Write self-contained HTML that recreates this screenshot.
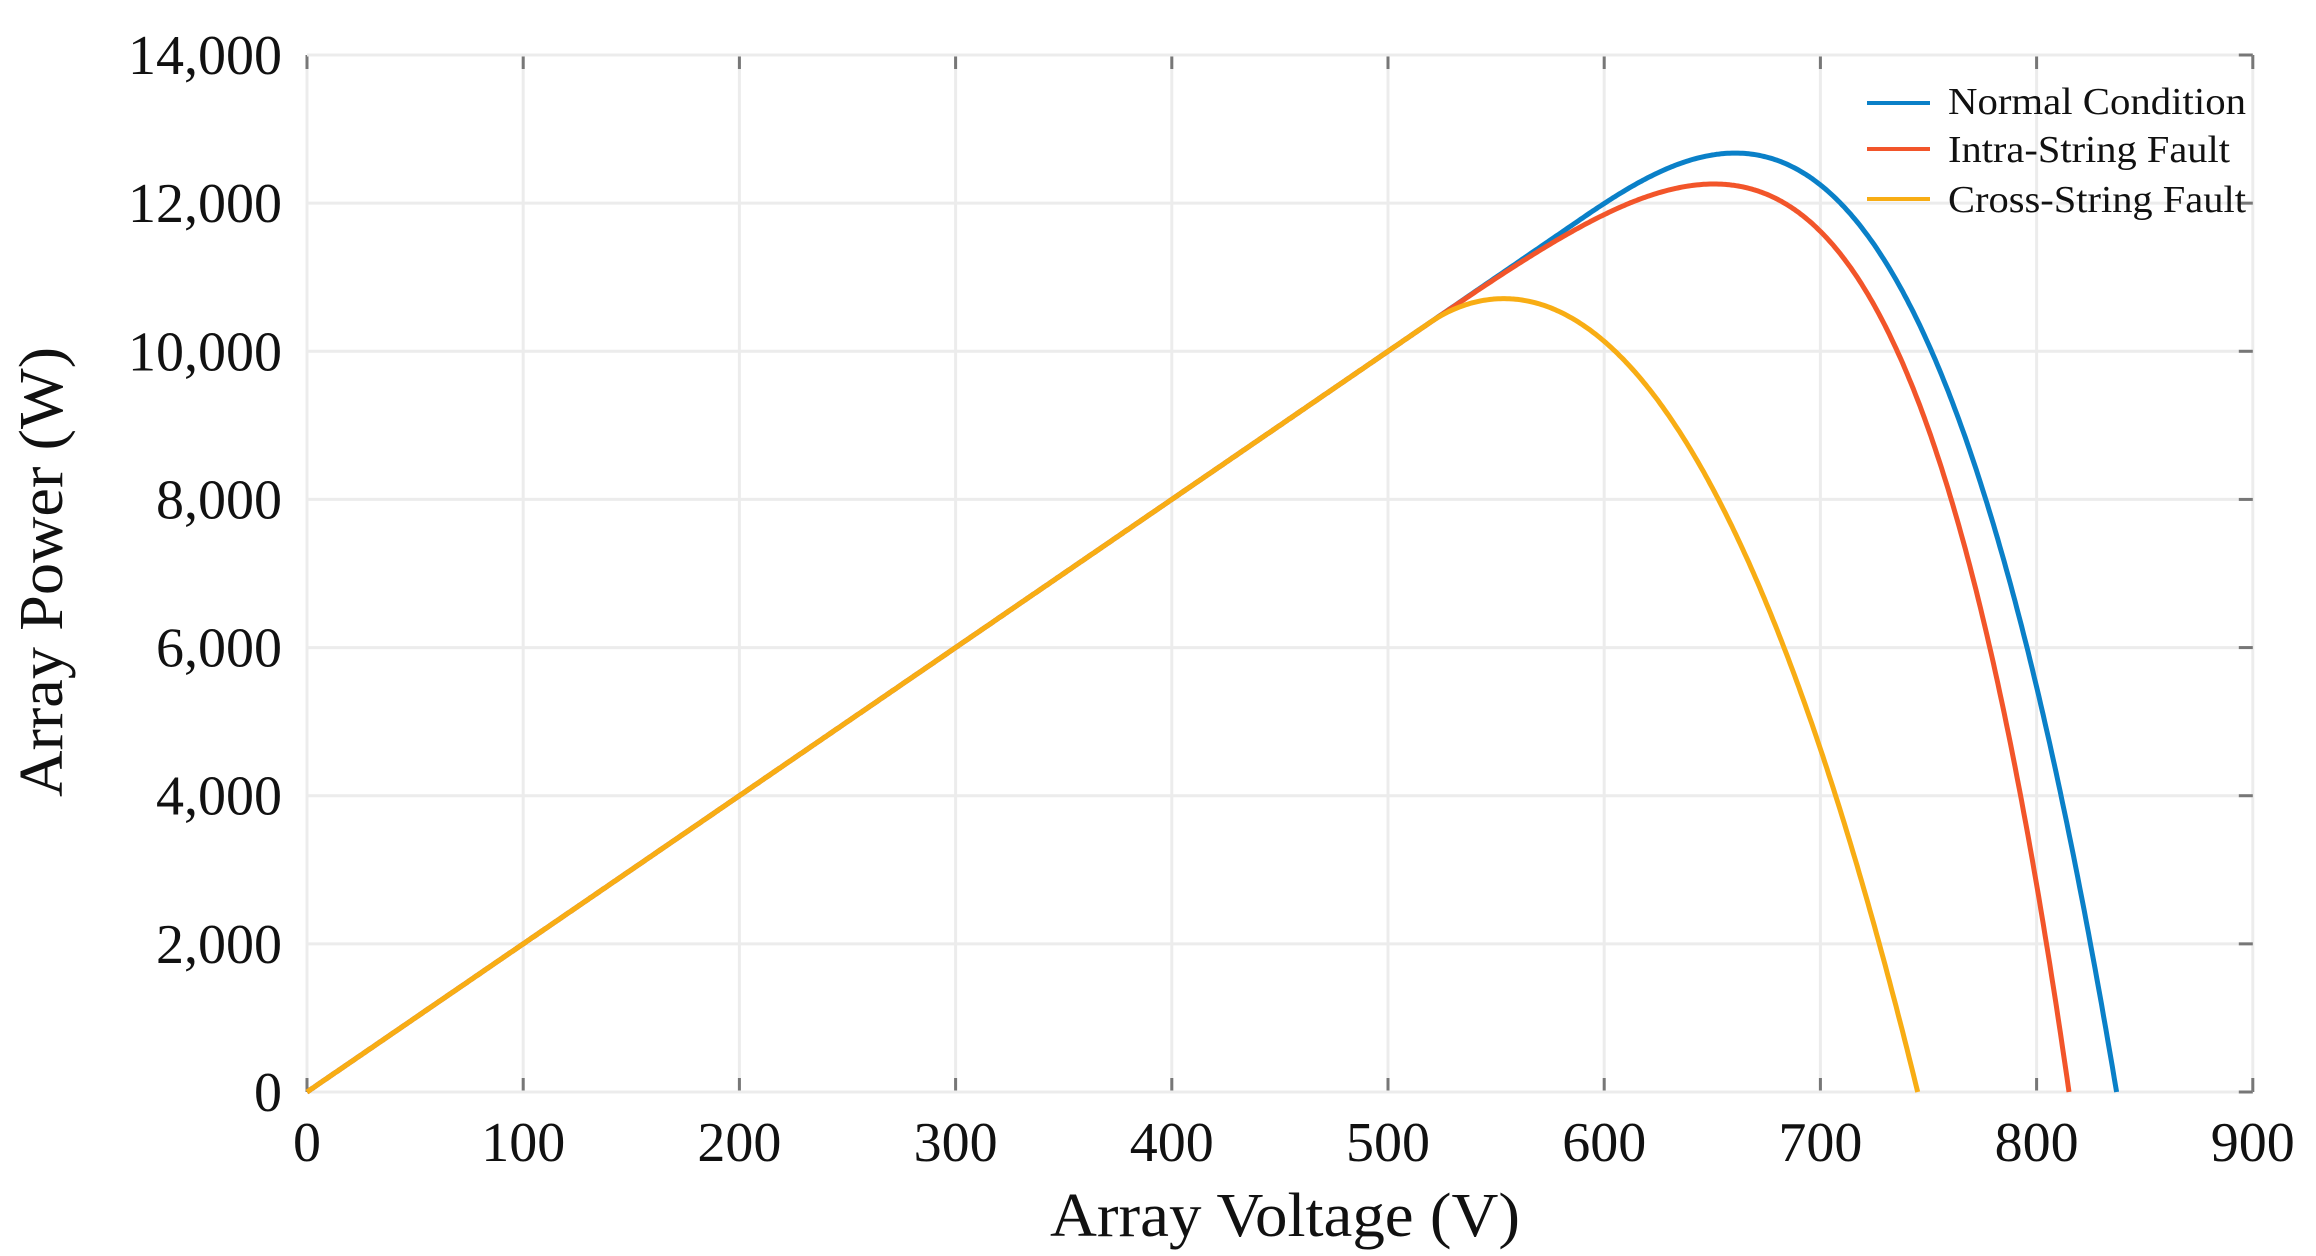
<!DOCTYPE html>
<html><head><meta charset="utf-8"><style>
html,body{margin:0;padding:0;background:#fff;}
svg{display:block;}
text{font-family:"Liberation Serif",serif;fill:#111;}
</style></head><body>
<svg id="s" width="2316" height="1256" viewBox="0 0 2316 1256" xmlns="http://www.w3.org/2000/svg">
<g id="grid"></g>
<g id="curves"></g>
<g id="labels" font-size="56"></g>
<text x="1285" y="1236" font-size="62" text-anchor="middle" textLength="470" lengthAdjust="spacingAndGlyphs">Array  Voltage  (V)</text>
<text transform="translate(62,572) rotate(-90)" font-size="62" text-anchor="middle" textLength="450" lengthAdjust="spacingAndGlyphs">Array  Power  (W)</text>
<line x1="1867" y1="103" x2="1930" y2="103" stroke="#0a80c8" stroke-width="4"/>
<line x1="1867" y1="149" x2="1930" y2="149" stroke="#f2552a" stroke-width="4"/>
<line x1="1867" y1="199" x2="1930" y2="199" stroke="#f8ad14" stroke-width="4"/>
<text x="1948" y="114" font-size="38" textLength="298" lengthAdjust="spacingAndGlyphs">Normal  Condition</text>
<text x="1948" y="162" font-size="38" textLength="282" lengthAdjust="spacingAndGlyphs">Intra-String  Fault</text>
<text x="1948" y="212" font-size="38" textLength="298" lengthAdjust="spacingAndGlyphs">Cross-String Fault</text>
</svg>
<script>
var NS="http://www.w3.org/2000/svg";
var X0=307,XS=216.2/100,Y0=1092,YS=(1092-55)/14000;
function px(v){return X0+v*XS}function py(p){return Y0-p*YS}
function el(g,t,a,txt){var e=document.createElementNS(NS,t);for(var k in a)e.setAttribute(k,a[k]);if(txt!=null)e.textContent=txt;document.getElementById(g).appendChild(e);return e;}
for(var v=0;v<=900;v+=100){el("grid","line",{x1:px(v),y1:55,x2:px(v),y2:1092,stroke:"#ececec","stroke-width":3});
 el("grid","line",{x1:px(v),y1:1092,x2:px(v),y2:1078,stroke:"#777","stroke-width":3});
 el("grid","line",{x1:px(v),y1:55,x2:px(v),y2:69,stroke:"#777","stroke-width":3});
 el("labels","text",{x:px(v),y:1161,"text-anchor":"middle"},String(v));}
for(var p=0;p<=14000;p+=2000){el("grid","line",{x1:X0,y1:py(p),x2:px(900),y2:py(p),stroke:"#ececec","stroke-width":3});
 el("grid","line",{x1:px(900)-14,y1:py(p),x2:px(900),y2:py(p),stroke:"#777","stroke-width":3});
 el("labels","text",{x:282,y:py(p)+19,"text-anchor":"end"},p==0?"0":(p/1000)+",000");}
function model(v,voc,v1,k){if(v<=v1)return 20*v;var u=(v-v1)/(voc-v1);if(u>=1)return 0;return 20*v*(1-Math.pow(u,k));}
function curve(voc,pts,col){
 var best=1e18,bv=0,bk=0;
 for(var v1=300;v1<voc-60;v1+=2)for(var k=1.2;k<8;k+=0.05){
  var e=0;for(var i=0;i<pts.length;i++){var d=model(pts[i][0],voc,v1,k)-pts[i][1];e+=d*d;}
  if(e<best){best=e;bv=v1;bk=k;}}
 var d="";
 for(var v=0;v<=voc;v+=1){d+=(v?"L":"M")+px(v).toFixed(1)+","+py(model(v,voc,bv,bk)).toFixed(1);}
 el("curves","path",{d:d,fill:"none",stroke:col,"stroke-width":5,"stroke-linejoin":"round"});
}
curve(837,[[500,10000],[600,11930],[640,12500],[671,12745],[700,12280],[725,11435],[751,9920],[778,7720],[808,4685]],"#0a80c8");
curve(815,[[500,10000],[600,11880],[653,12380],[700,11515],[725,10590],[751,8735],[778,6370],[802,2240]],"#f2552a");
curve(745,[[470,9400],[500,9950],[539,10500],[567,10720],[600,10250],[645,8400],[700,4685],[725,2160]],"#f8ad14");
</script>
</body></html>
